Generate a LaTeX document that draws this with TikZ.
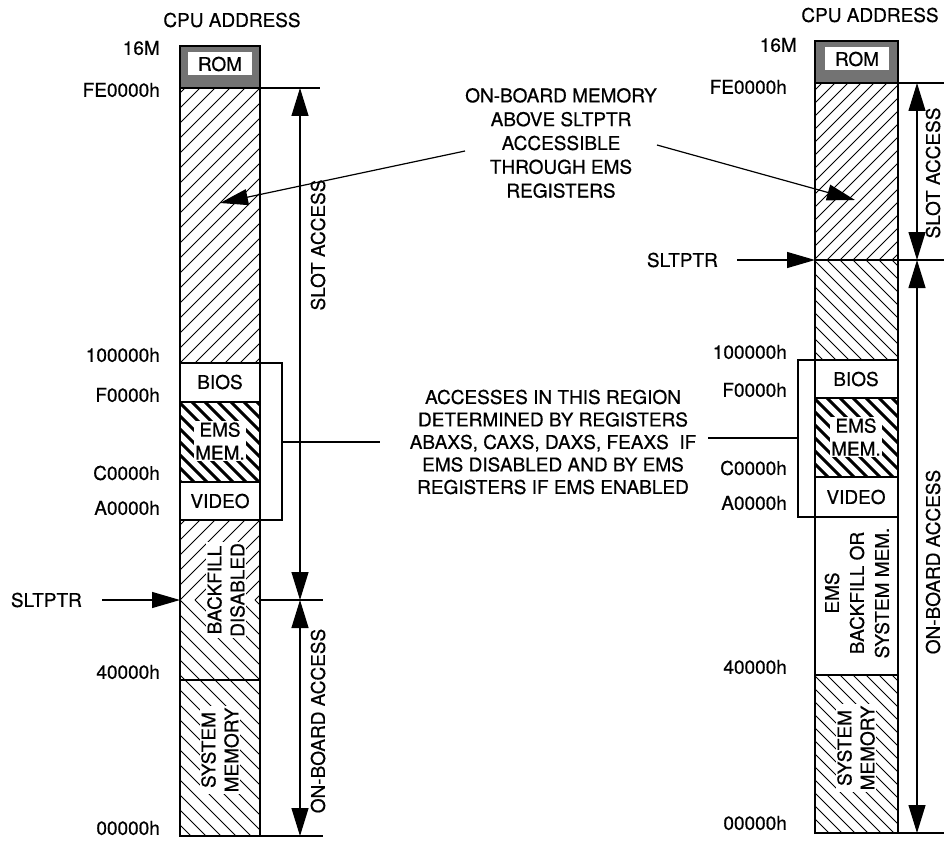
\documentclass[tikz,border=0pt]{standalone}
\usepackage{fontspec}
\setmainfont{TeX Gyre Heros}[FakeBold=0.6]
\usetikzlibrary{arrows.meta}

\tikzset{
  txt/.style={font=\fontsize{19}{23}\selectfont, inner sep=0pt, align=center},
  addr/.style={txt, anchor=east},
  onfill/.style={txt, fill=white, inner sep=1.5pt},
  romtxt/.style={txt, fill=white, minimum width=64pt, minimum height=23pt},
  col/.style={line width=1.4pt},
  hatch/.style={line width=1pt},
  tip/.style={line width=1.2pt, -{Triangle[length=28pt,width=16pt]}},
  dim/.style={line width=1.2pt, {Triangle[length=28pt,width=17pt]}-{Triangle[length=28pt,width=17pt]}},
}

% rayado / y rayado \ dentro de un rectangulo
\newcommand{\hatchup}[6][]{%
  \begin{scope}
    \clip (#2,#3) rectangle (#4,#5);
    \foreach \k in {0,...,60}
      \draw[hatch,#1] (#2-300+\k*#6,#5) -- ++(320,-320);
  \end{scope}}
\newcommand{\hatchdown}[6][]{%
  \begin{scope}
    \clip (#2,#3) rectangle (#4,#5);
    \foreach \k in {0,...,60}
      \draw[hatch,#1] (#2-300+\k*#6,#3) -- ++(320,320);
  \end{scope}}

\begin{document}
\begin{tikzpicture}[x=1pt,y=-1pt]
    \useasboundingbox (0,0) rectangle (944,840);
    % Columna izquierda: rellenos
    \fill[black!55] (180,46) rectangle (260,88);
    \hatchup{180}{88}{260}{363}{15}
    \hatchdown[line width=3pt]{180}{402}{260}{482}{13}
    \hatchup{180}{520}{260}{600}{15}
    \hatchdown{180}{600}{260}{836}{15}
    % Columna izquierda: bordes
    \draw[col] (180,46) rectangle (260,836);
    \foreach \y in {88,363,402,482,520,680} \draw[col] (180,\y) -- (260,\y);
    % Columna derecha: rellenos
    \fill[black!55] (815,41) rectangle (898,83);
    \hatchup{815}{83}{898}{260}{13}
    \hatchdown{815}{260}{898}{360}{13}
    \hatchdown[line width=3pt]{815}{398}{898}{477}{13}
    \hatchdown{815}{675}{898}{833}{13}
    % Columna derecha: bordes
    \draw[col] (815,41) rectangle (898,833);
    \foreach \y in {83,260,360,398,477,517,675} \draw[col] (815,\y) -- (898,\y);

    % Textos dentro de las columnas
    \node[romtxt] (romL) at (220,64) {ROM};
    \node[txt] (biosL) at (220,382) {BIOS};
    \node[onfill] (emsL) at (220,441) {EMS\\MEM.};
    \node[txt] (videoL) at (220,501) {VIDEO};
    \node[onfill, rotate=90] (backL) at (226,590) {BACKFILL\\DISABLED};
    \node[onfill, rotate=90] (sysL) at (220,750) {SYSTEM\\MEMORY};
    \node[romtxt] (romR) at (857,59) {ROM};
    \node[txt] (biosR) at (856,379) {BIOS};
    \node[onfill] (emsR) at (856,437) {EMS\\MEM.};
    \node[txt] (videoR) at (856,497) {VIDEO};
    \node[txt, rotate=90, font=\fontsize{19}{25}\selectfont] (backR) at (857,593) {EMS\\BACKFILL OR\\SYSTEM MEM.};
    \node[onfill, rotate=90] (sysR) at (856,748) {SYSTEM\\MEMORY};

    % Direcciones
    \node[txt] (cpuL) at (232,20) {CPU ADDRESS};
    \node[addr] (a16L) at (160,48) {16M};
    \node[addr] (aFEL) at (160,90) {FE0000h};
    \node[addr] (a10L) at (160,355) {100000h};
    \node[addr] (aF0L) at (160,395) {F0000h};
    \node[addr] (aC0L) at (160,473) {C0000h};
    \node[addr] (aA0L) at (160,508) {A0000h};
    \node[addr] (a40L) at (160,672) {40000h};
    \node[addr] (a00L) at (160,828) {00000h};
    \node[txt] (cpuR) at (870,15) {CPU ADDRESS};
    \node[addr] (a16R) at (797,45) {16M};
    \node[addr] (aFER) at (787,87) {FE0000h};
    \node[addr] (a10R) at (787,352) {100000h};
    \node[addr] (aF0R) at (787,390) {F0000h};
    \node[addr] (aC0R) at (787,468) {C0000h};
    \node[addr] (aA0R) at (787,503) {A0000h};
    \node[addr] (a40R) at (787,667) {40000h};
    \node[addr] (a00R) at (787,823) {00000h};

    % SLTPTR
    \coordinate (sltColL) at (180,600);
    \coordinate (sltColR) at (815,260);
    \node[addr] (sltL) at (82,600) {SLTPTR};
    \node[addr] (sltR) at (718,260) {SLTPTR};
    \draw[tip] ([xshift=20pt]sltL.east) -- (sltColL);
    \draw[tip] ([xshift=19pt]sltR.east) -- (sltColR);

    % Cotas de acceso, lado izquierdo
    \draw[col, line width=1.2pt] (260,88) -- (320,88);
    \draw[col, line width=1.2pt] (260,600) -- (323,600);
    \draw[col, line width=1.2pt] (260,836) -- (323,836);
    \coordinate (slotTopL) at (300,88);
    \coordinate (slotBotL) at (300,600);
    \coordinate (onBotL) at (300,836);
    \draw[dim] (slotTopL) -- (slotBotL);
    \draw[dim] (slotBotL) -- (onBotL);
    \node[txt, rotate=90] (slotTxtL) at (318,245) {SLOT ACCESS};
    \node[txt, rotate=90] (onTxtL) at (318,721) {ON-BOARD ACCESS};
    % Cotas de acceso, lado derecho
    \draw[col, line width=1.2pt] (898,83) -- (944,83);
    \draw[col, line width=1.2pt] (898,260) -- (944,260);
    \draw[col, line width=1.2pt] (898,833) -- (944,833);
    \coordinate (slotTopR) at (917,83);
    \coordinate (slotBotR) at (917,260);
    \coordinate (onBotR) at (917,833);
    \draw[dim] (slotTopR) -- (slotBotR);
    \draw[dim] (slotBotR) -- (onBotR);
    \node[txt, rotate=90] (slotTxtR) at (933,173) {SLOT ACCESS};
    \node[txt, rotate=90] (onTxtR) at (933,562) {ON-BOARD ACCESS};

    % Nota de la memoria sobre SLTPTR
    \node[txt, font=\fontsize{19}{23.8}\selectfont] (memnote) at (561,143)
        {ON-BOARD MEMORY\\ABOVE SLTPTR\\ACCESSIBLE\\THROUGH EMS\\REGISTERS};
    \coordinate (memL) at (220,203);
    \coordinate (memR) at (855,200);
    \draw[tip] ([yshift=-8pt]memnote.west) -- (memL);
    \draw[tip] ([yshift=-2pt]memnote.east) -- (memR);

    % Llaves de la zona BIOS/EMS/VIDEO y nota
    \draw[col, line width=1.2pt] (260,363) -- (282,363) -- (282,520) -- (260,520);
    \draw[col, line width=1.2pt] (815,360) -- (798,360) -- (798,517) -- (815,517);
    \node[txt, font=\fontsize{19}{22.5}\selectfont] (accnote) at (553,442)
        {ACCESSES IN THIS REGION\\DETERMINED BY REGISTERS\\ABAXS, CAXS, DAXS, FEAXS~ IF\\EMS DISABLED AND BY EMS\\REGISTERS IF EMS ENABLED};
    \coordinate (brL) at (282,442);
    \coordinate (accL) at (380,442);
    \coordinate (brR) at (798,438);
    \coordinate (accR) at (708,438);
    \draw[col, line width=1.2pt] (brL) -- (accL);
    \draw[col, line width=1.2pt] (accR) -- (brR);
\end{tikzpicture}
\end{document}
